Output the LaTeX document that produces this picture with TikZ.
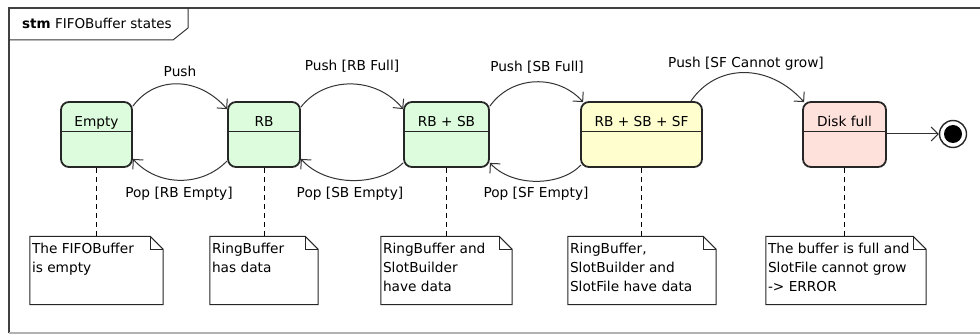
\documentclass[tikz,border=0pt]{standalone}
\usepackage{fontspec}
\setmainfont{DejaVu Sans}
\usetikzlibrary{arrows.meta,calc}

\definecolor{stgreen}{HTML}{DDFCDD}
\definecolor{styellow}{HTML}{FEFECF}
\definecolor{stpink}{HTML}{FFE1DC}
\definecolor{ink}{HTML}{333333}

\tikzset{
  lbl/.style={font=\fontsize{13.7}{16}\selectfont, inner sep=0pt, text=black},
  statebox/.style={draw=black!85, line width=1.8pt, rounded corners=8pt,
    minimum height=65pt, inner sep=0pt},
  divider/.style={draw=black!85, line width=1.1pt},
  trans/.style={draw=ink, line width=1pt,
    -{Straight Barb[length=7pt,width=14pt,line width=1pt]}},
  noteline/.style={draw=black, line width=1pt, dash pattern=on 5pt off 4pt},
  notebox/.style={draw=none, inner sep=0pt},
  noteframe/.style={draw=black!85, line width=1pt, fill=white},
  notetext/.style={font=\fontsize{13.7}{19}\selectfont, inner sep=0pt,
    anchor=north west, align=left},
}

\begin{document}
\begin{tikzpicture}[x=1pt,y=-1pt]
\useasboundingbox (0,0) rectangle (980,334);

% diagram frame and its name tab
\draw[draw=black!75, line width=1.4pt] (981,8) -- (9,8) -- (9,333);
\draw[draw=black!30, line width=1.2pt] (9,333) -- (981,333);
\draw[draw=black!80, line width=1pt] (9,40) -- (173,40) -- (188,28) -- (188,8);
\node[lbl, anchor=base west] (title) at (22,29)
  {\fontsize{13.5}{16}\selectfont\textbf{stm} FIFOBuffer states};

% states
\node[statebox, fill=stgreen, minimum width=71pt] (empty) at (96.5,134.5) {};
\node[statebox, fill=stgreen, minimum width=72pt] (rb) at (264,134.5) {};
\node[statebox, fill=stgreen, minimum width=85pt] (rbsb) at (446.5,134.5) {};
\node[statebox, fill=styellow, minimum width=121pt] (rbsbsf) at (641.5,134.5) {};
\node[statebox, fill=stpink, minimum width=83pt] (disk) at (844.5,134.5) {};

\foreach \s/\t in {empty/Empty, rb/RB, rbsb/RB + SB, rbsbsf/RB + SB + SF, disk/Disk full}{
  \draw[divider] ($(\s.north west)+(0.5,30)$) -- ($(\s.north east)+(-0.5,30)$);
  \node[lbl, anchor=base] at ($(\s.north)+(0,25)$) {\t};
}

% final state
\node[circle, draw=black!85, line width=1.4pt, fill=white, minimum size=27pt,
  inner sep=0pt] (endring) at (953,134) {};
\node[circle, fill=black, minimum size=18pt, inner sep=0pt] (enddot) at (endring.center) {};

% transitions
\draw[trans] ($(empty.north east)+(0,5)$) .. controls (155,76) and (198,76) ..
  ($(rb.north west)+(0,8)$);
\node[lbl, anchor=base] (l1) at (180,77) {Push};
\draw[trans] ($(rb.south west)+(0,-7)$) .. controls (202,187) and (158,187) ..
  ($(empty.south east)+(0,-9)$);
\node[lbl, anchor=base] (l2) at (179,197) {Pop [RB Empty]};

\draw[trans] ($(rb.north east)+(0,6)$) .. controls (325,76) and (376,76) ..
  ($(rbsb.north west)+(0,8)$);
\node[lbl, anchor=base] (l3) at (352,71) {Push [RB Full]};
\draw[trans] ($(rbsb.south west)+(0,-5)$) .. controls (378,187) and (326,187) ..
  ($(rb.south east)+(0,-9)$);
\node[lbl, anchor=base] (l4) at (350,197) {Pop [SB Empty]};

\draw[trans] ($(rbsb.north east)+(0,5)$) .. controls (512,75) and (558,74) ..
  ($(rbsbsf.north west)+(3,1)$);
\node[lbl, anchor=base] (l5) at (537,72) {Push [SB Full]};
\draw[trans] ($(rbsbsf.south west)+(1,-3)$) .. controls (560,187) and (512,187) ..
  ($(rbsb.south east)+(0,-5)$);
\node[lbl, anchor=base] (l6) at (536,197) {Pop [SF Empty]};

\draw[trans] ($(rbsbsf.north east)+(-12,0)$) .. controls (716,64) and (768,62) ..
  ($(disk.north west)+(2,1)$);
\node[lbl, anchor=base] (l7) at (746,68) {Push [SF Cannot grow]};

\draw[trans] (disk.east |- endring.west) -- (endring.west);

% notes
\foreach \n/\s/\l/\r/\txt in {
  n1/empty/30/163/{The FIFOBuffer\\is empty},
  n2/rb/210/318/{RingBuffer\\has data},
  n3/rbsb/381/512/{RingBuffer and\\SlotBuilder\\have data},
  n4/rbsbsf/568/716/{RingBuffer,\\SlotBuilder and\\SlotFile have data},
  n5/disk/766/926/{The buffer is full and\\SlotFile cannot grow\\-> ERROR}}{
  \node[notebox, minimum width=\r pt-\l pt, minimum height=68pt]
    (\n) at ({(\l+\r)/2},270.5) {};
  \draw[noteline] (\s.south) -- (\s.south |- \n.north);
  \draw[noteframe] (\n.north west) -- ($(\n.north east)+(-13,0)$)
    -- ($(\n.north east)+(0,13)$) -- (\n.south east) -- (\n.south west) -- cycle;
  \draw[noteframe, fill=none] ($(\n.north east)+(-13,0)$) -- ($(\n.north east)+(-13,13)$)
    -- ($(\n.north east)+(0,13)$);
  \node[notetext] at ($(\n.north west)+(2,7)$) {\txt};
}
\end{tikzpicture}
\end{document}
